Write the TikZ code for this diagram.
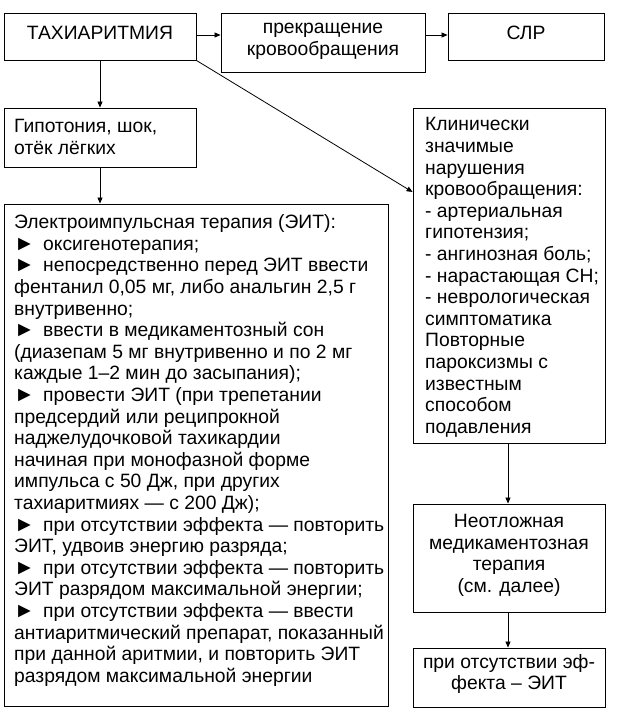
\documentclass[tikz,border=0pt]{standalone}
\usepackage{fontspec}
\setmainfont{Liberation Sans}
\usetikzlibrary{arrows.meta}
\newcommand{\blt}{\makebox[29pt][l]{\fontsize{21}{21}\selectfont ►}}
\begin{document}
\begin{tikzpicture}[x=1pt,y=-1pt,
  box/.style={draw, line width=0.9pt, inner sep=0pt, rectangle},
  txt/.style={inner sep=0pt, font=\fontsize{19.3}{21.6}\selectfont},
  conn/.style={line width=0.8pt, -{Triangle[length=6pt,width=5pt]}}]
\useasboundingbox (0,0) rectangle (617,725);
% boxes
\node[box, minimum width=192pt, minimum height=47pt] (tax) at (100,36.5) {};
\node[box, minimum width=204pt, minimum height=59pt] (stop) at (323,42.5) {};
\node[box, minimum width=156pt, minimum height=47pt] (slr) at (526,36.5) {};
\node[box, minimum width=192pt, minimum height=59pt] (hypo) at (100,137.5) {};
\node[box, minimum width=384pt, minimum height=502pt] (eit) at (196,455) {};
\node[box, minimum width=192pt, minimum height=335pt] (clin) at (509,275.5) {};
\node[box, minimum width=192pt, minimum height=108pt] (urg) at (509,558) {};
\node[box, minimum width=192pt, minimum height=59pt] (fail) at (509,677.5) {};
% texts
\node[txt] (taxT) at (100,33) {ТАХИАРИТМИЯ};
\node[txt, align=center] (stopT) at (323,41.5) {прекращение\\кровообращения};
\node[txt] (slrT) at (526,33) {СЛР};
\node[txt, align=left, anchor=north west] (hypoT) at (14,119.5) {Гипотония, шок,\\отёк лёгких};
\node[txt, align=left, anchor=north west] (clinT) at (425,117.5) {Клинически\\значимые\\нарушения\\кровообращения:\\- артериальная\\гипотензия;\\- ангинозная боль;\\- нарастающая СН;\\- неврологическая\\симптоматика\\Повторные\\пароксизмы с\\известным\\способом\\подавления};
\node[txt, align=left, anchor=north west] (eitT) at (14,214.5) {Электроимпульсная терапия (ЭИТ):\\
\blt оксигенотерапия;\\
\blt непосредственно перед ЭИТ ввести\\
фентанил 0,05 мг, либо анальгин 2,5 г\\
внутривенно;\\
\blt ввести в медикаментозный сон\\
(диазепам 5 мг внутривенно и по 2 мг\\
каждые 1–2 мин до засыпания);\\
\blt провести ЭИТ (при трепетании\\
предсердий или реципрокной\\
наджелудочковой тахикардии\\
начиная при монофазной форме\\
импульса с 50 Дж, при других\\
тахиаритмиях — с 200 Дж);\\
\blt при отсутствии эффекта — повторить\\
ЭИТ, удвоив энергию разряда;\\
\blt при отсутствии эффекта — повторить\\
ЭИТ разрядом максимальной энергии;\\
\blt при отсутствии эффекта — ввести\\
антиаритмический препарат, показанный\\
при данной аритмии, и повторить ЭИТ\\
разрядом максимальной энергии};
\node[txt, align=center] (urgT) at (509,555.5) {Неотложная\\медикаментозная\\терапия\\(см. далее)};
\node[txt, align=center] (failT) at (509,674) {при отсутствии эф-\\фекта – ЭИТ};
% connectors
\draw[conn] (tax.east |- 0,35) -- (stop.west |- 0,35);
\draw[conn] (stop.east |- 0,35) -- (slr.west |- 0,35);
\draw[conn] (tax.south) -- (hypo.north);
\draw[conn] (hypo.south) -- (eit.north -| hypo.south);
\draw[conn] (tax.south east) -- (clin.west |- 0,192);
\draw[conn] (clin.south -| 508,0) -- (urg.north -| 508,0);
\draw[conn] (urg.south -| 508,0) -- (fail.north -| 508,0);
\end{tikzpicture}
\end{document}
